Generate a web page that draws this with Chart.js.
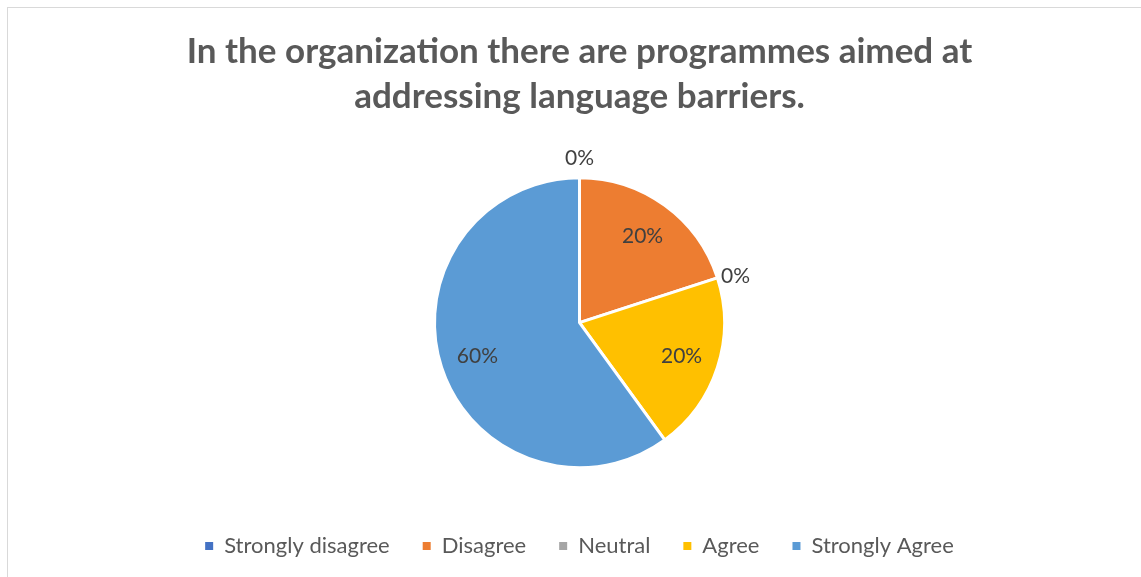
<!DOCTYPE html>
<html>
<head>
<meta charset="utf-8">
<script src="https://cdn.jsdelivr.net/npm/chart.js@4.4.1/dist/chart.umd.min.js"></script>
<style>
  html, body { margin: 0; padding: 0; background: #fff; }
  body { width: 1141px; height: 577px; position: relative; overflow: hidden; }
  .frame {
    position: absolute; left: 7px; top: 7px; width: 1200px; height: 640px;
    border: 1px solid #d9d9d9; box-sizing: border-box;
  }
  #surveyPie { position: absolute; left: 0; top: 0; }
</style>
</head>
<body>
<div class="frame"></div>
<canvas id="surveyPie" width="1141" height="577"></canvas>
<script>
const titleLines = ['In the organization there are programmes aimed at', 'addressing language barriers.'];
const answers = ['Strongly disagree', 'Disagree', 'Neutral', 'Agree', 'Strongly Agree'];
const shares = [0, 20, 0, 20, 60];
const sliceColors = ['#4472C4', '#ED7D31', '#A5A5A5', '#FFC000', '#5B9BD5'];

const FONT = 'Lato, "Open Sans", sans-serif';

// percentage labels: inside the slice, or just outside it when the slice is empty
const sliceLabels = {
  id: 'sliceLabels',
  afterDatasetsDraw(chart) {
    const ctx = chart.ctx;
    const meta = chart.getDatasetMeta(0);
    ctx.save();
    ctx.font = '21px ' + FONT;
    ctx.fillStyle = '#404040';
    ctx.textAlign = 'center';
    ctx.textBaseline = 'middle';
    meta.data.forEach((arc, i) => {
      const p = arc.getProps(['x', 'y', 'startAngle', 'endAngle', 'outerRadius'], true);
      const mid = (p.startAngle + p.endAngle) / 2;
      const v = shares[i];
      const r = v === 0 ? p.outerRadius + 19 : p.outerRadius * 0.74;
      const dy = v === 0 && Math.cos(mid) > 0.5 ? 4 : 0;
      ctx.fillText(v + '%', p.x + Math.cos(mid) * r, p.y + Math.sin(mid) * r + dy);
    });
    ctx.restore();
  }
};

const pieLegendLabels = Chart.overrides.pie.plugins.legend.labels.generateLabels;

new Chart(document.getElementById('surveyPie'), {
  type: 'pie',
  data: {
    labels: answers,
    datasets: [{
      data: shares,
      backgroundColor: sliceColors,
      borderColor: '#ffffff',
      borderWidth: 3,
      radius: 145
    }]
  },
  options: {
    responsive: false,
    animation: false,
    layout: { padding: { top: 8, left: 24, right: 6, bottom: 10 } },
    plugins: {
      title: {
        display: true,
        text: titleLines,
        color: '#595959',
        font: { family: FONT, size: 35, weight: 'bold', lineHeight: 1.29 },
        padding: { top: 21, bottom: 24 }
      },
      legend: {
        position: 'bottom',
        labels: {
          color: '#595959',
          font: { family: FONT, size: 22 },
          boxWidth: 8,
          boxHeight: 8,
          padding: 33,
          // plain filled squares, without the white slice border
          generateLabels: (chart) =>
            pieLegendLabels(chart).map(item => ({ ...item, lineWidth: 0, strokeStyle: item.fillStyle }))
        }
      },
      tooltip: { enabled: false }
    }
  },
  plugins: [sliceLabels]
});
</script>
</body>
</html>
